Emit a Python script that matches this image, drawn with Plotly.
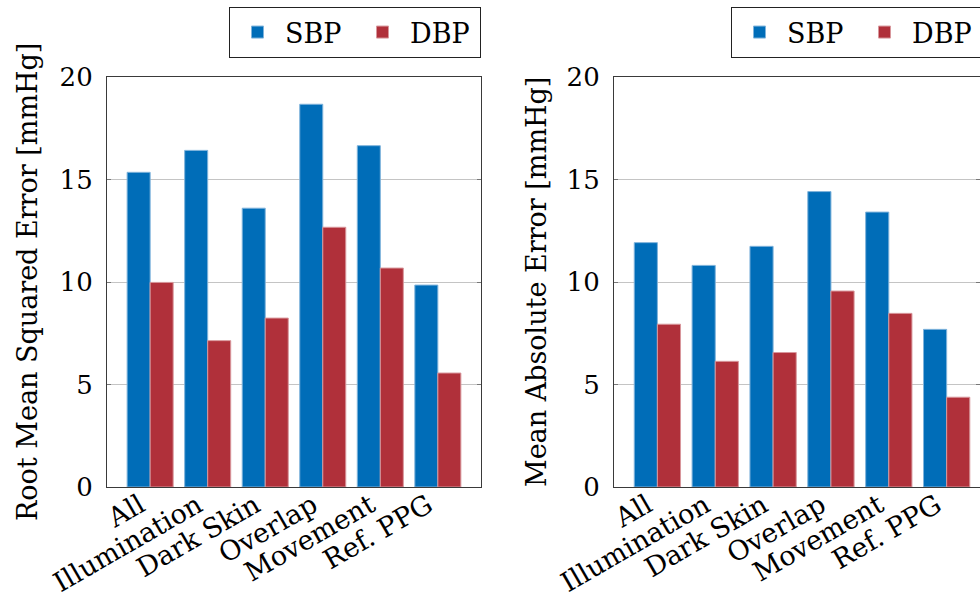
import plotly.graph_objects as go

categories = ["All", "Illumination", "Dark Skin", "Overlap", "Movement", "Ref. PPG"]
rmse_sbp = [15.35, 16.42, 13.6, 18.67, 16.65, 9.85]
rmse_dbp = [9.98, 7.14, 8.24, 12.67, 10.68, 5.56]
mae_sbp = [11.92, 10.81, 11.74, 14.41, 13.41, 7.69]
mae_dbp = [7.94, 6.13, 6.56, 9.56, 8.47, 4.38]
series_names = ["SBP", "DBP"]
y_ticks = [0, 5, 10, 15, 20]

BLUE = "#006DB8"
RED = "#B0303A"
BLUE_EDGE = "#7FB3DB"
RED_EDGE = "#D8979C"
FONT = "DejaVu Serif"
W, H = 980, 597
L, R, T, B = 107, 0, 77, 110

fig = go.Figure()
for xa, ya, leg, vals in [("x", "y", "legend", (rmse_sbp, rmse_dbp)),
                          ("x2", "y2", "legend2", (mae_sbp, mae_dbp))]:
    for name, v, c, e in zip(series_names, vals, [BLUE, RED], [BLUE_EDGE, RED_EDGE]):
        fig.add_trace(go.Bar(
            x=list(range(len(categories))), y=v, name=name,
            marker=dict(color=c, line=dict(color=e, width=1)),
            xaxis=xa, yaxis=ya, legend=leg, offsetgroup=name,
        ))

plot_w = W - L - R
d1 = (481 - L) / plot_w
d2 = (614 - L) / plot_w
px_per_unit = (481 - 107) / 6.5
right_end = 5.75 - (990 - 980) / px_per_unit

xcommon = dict(tickmode="array", tickvals=list(range(len(categories))), ticktext=categories,
               tickangle=-30, ticks="", showgrid=False, zeroline=False,
               showline=True, linecolor="#3a3a3a", linewidth=1.2, mirror=True,
               ticklabelstandoff=-9, ticklabelshift=-10,
               tickfont=dict(family=FONT, size=27, color="black"))
ycommon = dict(range=[0, 20], tickvals=y_ticks, showgrid=True, gridcolor="#c4c4c4", gridwidth=1,
               zeroline=False, showline=True, linecolor="#3a3a3a", linewidth=1.2,
               mirror="allticks", ticks="inside", ticklen=4, tickcolor="#777777",
               ticklabelstandoff=8,
               tickfont=dict(family=FONT, size=26, color="black"))

legcommon = dict(orientation="h", y=(487 - 7) / 410, yanchor="top",
                 bordercolor="#222222", borderwidth=1, bgcolor="white",
                 font=dict(family=FONT, size=27, color="black"), itemwidth=45,
                 entrywidth=65, entrywidthmode="pixels")

fig.update_layout(
    width=W, height=H,
    margin=dict(l=L, r=R, t=T, b=B, autoexpand=False),
    plot_bgcolor="white", paper_bgcolor="white",
    barmode="group", bargap=0.2, bargroupgap=0.0,
    xaxis=dict(domain=[0, d1], range=[-0.75, 5.75], anchor="y", **xcommon),
    xaxis2=dict(domain=[d2, 1], range=[-0.75, right_end], anchor="y2", **xcommon),
    yaxis=dict(anchor="x", **ycommon),
    yaxis2=dict(anchor="x2", **ycommon),
    legend=dict(x=d1, xanchor="right", **legcommon),
    legend2=dict(x=(731 - L) / plot_w, xanchor="left", **legcommon),
    annotations=[
        dict(text="Root Mean Squared Error [mmHg]", xref="paper", yref="paper",
             x=(27 - L) / plot_w, y=0.5, xanchor="center", yanchor="middle", textangle=-90,
             showarrow=False, font=dict(family=FONT, size=27, color="black")),
        dict(text="Mean Absolute Error [mmHg]", xref="paper", yref="paper",
             x=(536 - L) / plot_w, y=0.5, xanchor="center", yanchor="middle", textangle=-90,
             showarrow=False, font=dict(family=FONT, size=27, color="black")),
    ],
)

fig.write_html("out.html")
